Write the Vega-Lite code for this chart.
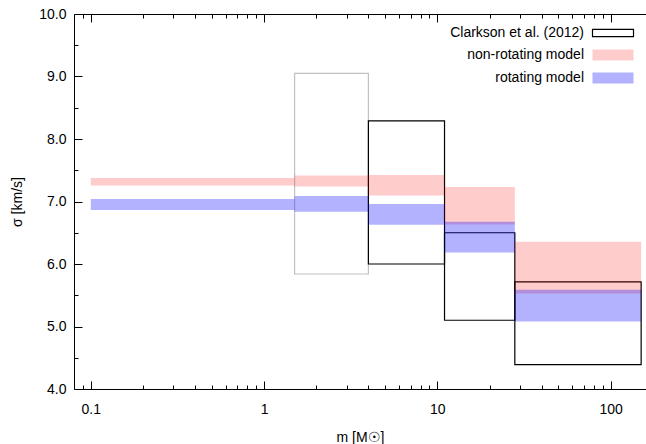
{
  "$schema": "https://vega.github.io/schema/vega-lite/v6.json",
  "width": 572,
  "height": 375,
  "autosize": {"type": "none"},
  "padding": {"left": 74, "top": 14, "right": 0, "bottom": 55},
  "background": "white",
  "config": {
    "view": {"stroke": null},
    "font": "Liberation Sans",
    "axis": {
      "domainColor": "black",
      "domainWidth": 1,
      "tickColor": "black",
      "tickWidth": 1,
      "labelColor": "black",
      "titleColor": "black",
      "labelFont": "Liberation Sans",
      "titleFont": "Liberation Sans",
      "labelFontSize": 14,
      "titleFontSize": 14,
      "titleFontWeight": "normal",
      "grid": false
    }
  },
  "datasets": {
    "boxes": [
      {"series": "excluded", "m1": 1.5, "m2": 4, "s1": 5.84, "s2": 9.05},
      {"series": "Clarkson et al. (2012)", "m1": 4, "m2": 11, "s1": 6.0, "s2": 8.29},
      {"series": "Clarkson et al. (2012)", "m1": 11, "m2": 28, "s1": 5.1, "s2": 6.5},
      {"series": "Clarkson et al. (2012)", "m1": 28, "m2": 150, "s1": 4.39, "s2": 5.715},
      {"series": "non-rotating model", "m1": 0.1, "m2": 1.5, "s1": 7.255, "s2": 7.378},
      {"series": "non-rotating model", "m1": 1.5, "m2": 4, "s1": 7.239, "s2": 7.415},
      {"series": "non-rotating model", "m1": 4, "m2": 11, "s1": 7.095, "s2": 7.426},
      {"series": "non-rotating model", "m1": 11, "m2": 28, "s1": 6.632, "s2": 7.234},
      {"series": "non-rotating model", "m1": 28, "m2": 150, "s1": 5.528, "s2": 6.355},
      {"series": "rotating model", "m1": 0.1, "m2": 1.5, "s1": 6.866, "s2": 7.04},
      {"series": "rotating model", "m1": 1.5, "m2": 4, "s1": 6.836, "s2": 7.09},
      {"series": "rotating model", "m1": 4, "m2": 11, "s1": 6.63, "s2": 6.962},
      {"series": "rotating model", "m1": 11, "m2": 28, "s1": 6.184, "s2": 6.675},
      {"series": "rotating model", "m1": 28, "m2": 150, "s1": 5.081, "s2": 5.588}
    ]
  },
  "layer": [
    {
      "data": {"name": "boxes"},
      "transform": [{"filter": "datum.series === 'excluded'"}],
      "mark": {"type": "rect", "fill": "transparent", "stroke": "#c0c0c0", "strokeWidth": 1.2},
      "encoding": {
        "x": {
          "field": "m1", "type": "quantitative",
          "scale": {"type": "log", "domain": [0.08, 160], "nice": false},
          "axis": {
            "orient": "top", "labels": false, "title": null,
            "values": [0.09, 0.1, 0.2, 0.3, 0.4, 0.5, 0.6, 0.7, 0.8, 0.9, 1, 2, 3, 4, 5, 6, 7, 8, 9, 10, 20, 30, 40, 50, 60, 70, 80, 90, 100],
            "tickSize": {"condition": {"test": "abs(log(datum.value)/LN10 - round(log(datum.value)/LN10)) < 0.000001", "value": -8}, "value": -4}
          }
        },
        "x2": {"field": "m2"},
        "y": {"field": "s1", "type": "quantitative", "scale": {"domain": [4, 10], "nice": false, "zero": false}, "axis": null},
        "y2": {"field": "s2"}
      }
    },
    {
      "data": {"name": "boxes"},
      "transform": [{"filter": "datum.series !== 'excluded'"}],
      "mark": {"type": "rect", "strokeWidth": 1.2},
      "encoding": {
        "x": {
          "field": "m1", "type": "quantitative",
          "scale": {"type": "log", "domain": [0.08, 160], "nice": false},
          "axis": {
            "orient": "bottom", "title": "m [M☉]", "titlePadding": 10,
            "values": [0.09, 0.1, 0.2, 0.3, 0.4, 0.5, 0.6, 0.7, 0.8, 0.9, 1, 2, 3, 4, 5, 6, 7, 8, 9, 10, 20, 30, 40, 50, 60, 70, 80, 90, 100],
            "labelExpr": "abs(log(datum.value)/LN10 - round(log(datum.value)/LN10)) < 0.000001 ? (datum.value >= 1 ? format(datum.value, 'd') : format(datum.value, '.1f')) : ''",
            "tickSize": {"condition": {"test": "abs(log(datum.value)/LN10 - round(log(datum.value)/LN10)) < 0.000001", "value": -8}, "value": -4},
            "labelPadding": 21,
            "labelFlush": false,
            "labelOverlap": false
          }
        },
        "x2": {"field": "m2"},
        "y": {
          "field": "s1", "type": "quantitative",
          "scale": {"domain": [4, 10], "nice": false, "zero": false},
          "axis": {
            "title": "σ [km/s]", "titlePadding": 14,
            "values": [4, 4.5, 5, 5.5, 6, 6.5, 7, 7.5, 8, 8.5, 9, 9.5, 10],
            "labelExpr": "datum.value % 1 === 0 ? format(datum.value, '.1f') : ''",
            "tickSize": {"condition": {"test": "datum.value % 1 !== 0", "value": -4}, "value": -8},
            "labelPadding": 16,
            "labelFlush": false,
            "labelOverlap": false
          }
        },
        "y2": {"field": "s2"},
        "fill": {
          "field": "series", "type": "nominal",
          "scale": {"domain": ["Clarkson et al. (2012)", "non-rotating model", "rotating model"], "range": ["transparent", "rgba(255,0,0,0.2)", "rgba(0,0,255,0.3)"]},
          "legend": {
            "title": null, "orient": "none", "legendX": 510, "legendY": 12, "padding": 0,
            "symbolType": "M-5,-1.35H5V1.35H-5Z", "symbolSize": 67.24, "symbolStrokeWidth": 1.2,
            "labelFont": "Liberation Sans", "labelFontSize": 14, "labelColor": "black", "rowPadding": 7,
            "encode": {
              "labels": {"update": {"x": {"value": 0}, "align": {"value": "right"}}},
              "symbols": {"update": {"x": {"value": 29}, "shape": [{"test": "datum.value === 'Clarkson et al. (2012)'", "value": "M-5,-0.9H5V0.9H-5Z"}, {"value": "M-5,-1.35H5V1.35H-5Z"}]}}
            }
          }
        },
        "stroke": {
          "field": "series", "type": "nominal",
          "scale": {"domain": ["Clarkson et al. (2012)", "non-rotating model", "rotating model"], "range": ["black", "transparent", "transparent"]},
          "legend": {
            "title": null, "orient": "none", "legendX": 510, "legendY": 12, "padding": 0,
            "symbolType": "M-5,-1.35H5V1.35H-5Z", "symbolSize": 67.24, "symbolStrokeWidth": 1.2,
            "labelFont": "Liberation Sans", "labelFontSize": 14, "labelColor": "black", "rowPadding": 7,
            "encode": {
              "labels": {"update": {"x": {"value": 0}, "align": {"value": "right"}}},
              "symbols": {"update": {"x": {"value": 29}, "shape": [{"test": "datum.value === 'Clarkson et al. (2012)'", "value": "M-5,-0.9H5V0.9H-5Z"}, {"value": "M-5,-1.35H5V1.35H-5Z"}]}}
            }
          }
        }
      }
    }
  ],
  "resolve": {"axis": {"x": "independent", "y": "independent"}}
}
